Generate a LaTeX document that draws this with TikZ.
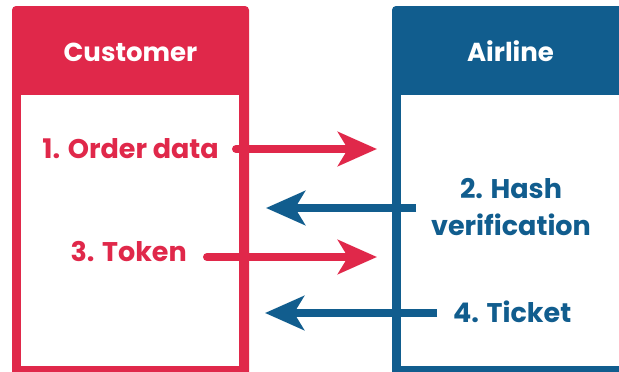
\documentclass[tikz,border=0pt]{standalone}
\usepackage{fontspec}
\setmainfont{Poppins}
\usetikzlibrary{arrows.meta}
\definecolor{cred}{HTML}{E0284A}
\definecolor{cblue}{HTML}{115D8E}
\begin{document}
\begin{tikzpicture}[x=1pt,y=-1pt,
  headtext/.style={text=white,font=\fontsize{26}{30}\selectfont\bfseries,inner sep=0pt,anchor=base},
  lbl/.style={font=\fontsize{27}{37}\selectfont\bfseries,inner sep=0pt},
  arr/.style={line width=8pt,-{Stealth[length=39pt,width=34pt,inset=10pt]}},
]
\useasboundingbox (0,0) rectangle (619,372);
% customer box
\fill[cred,rounded corners=4pt] (12,376) -- (12,6) -- (249,6) -- (249,376) -- cycle;
\fill[white] (21,95) rectangle (239,366);
% airline box
\fill[cblue,rounded corners=4pt] (392,376) -- (392,6) -- (640,6) -- (640,376) -- cycle;
\fill[white] (401,95) rectangle (630,366);
\node[headtext] (cust) at (130.5,61) {Customer};
\node[headtext] (air) at (510.5,61) {Airline};
% labels
\node[lbl,text=cred,anchor=base east] (l1) at (219,158) {1. Order data};
\node[lbl,text=cblue,align=center,anchor=base] (l2) at (511,235) {2. Hash\\verification};
\node[lbl,text=cred,anchor=base east] (l3) at (187,261) {3. Token};
\node[lbl,text=cblue,anchor=base west] (l4) at (453,322) {4. Ticket};
% arrow coordinates
\coordinate (a1s) at (236,149); \coordinate (a1e) at (377,149);
\coordinate (a2s) at (416,208); \coordinate (a2e) at (266,208);
\coordinate (a3s) at (207,257); \coordinate (a3e) at (377,257);
\coordinate (a4s) at (437,313); \coordinate (a4e) at (265,313);
\draw[arr,cred,line cap=round] (a1s) -- (a1e);
\draw[arr,cblue] (a2s) -- (a2e);
\draw[arr,cred,line cap=round] (a3s) -- (a3e);
\draw[arr,cblue] (a4s) -- (a4e);
\end{tikzpicture}
\end{document}
